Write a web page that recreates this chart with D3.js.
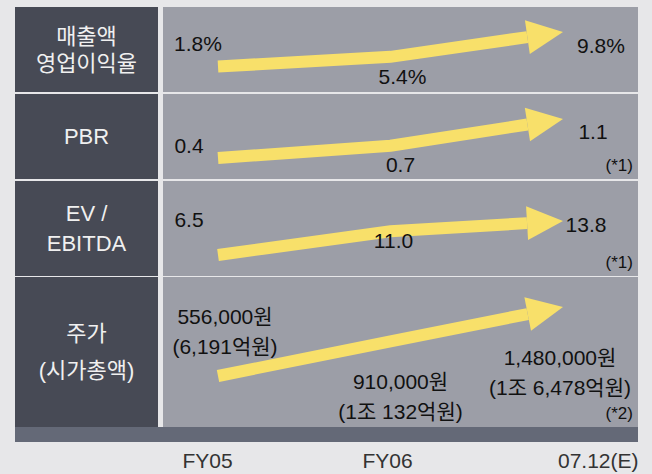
<!DOCTYPE html>
<html>
<head>
<meta charset="utf-8">
<script src="https://cdn.jsdelivr.net/npm/d3@7"></script>
<style>
  html, body { margin: 0; padding: 0; background: #e7e7e9; }
  svg { display: block; }
  text { font-family: "Liberation Sans", Arial, "Noto Sans CJK KR", sans-serif; }
</style>
</head>
<body>
<div id="chart"></div>
<script>
// periods on the x axis
const periods = ['FY05', 'FY06', '07.12(E)'];

// row titles (one entry per line)
const rowTitles = [
  ['매출액', '영업이익율'],
  ['PBR'],
  ['EV /', 'EBITDA'],
  ['주가', '(시가총액)'],
];

// values per row
const marginValues = [1.8, 5.4, 9.8];
const pbrValues = [0.4, 0.7, 1.1];
const evEbitdaValues = [6.5, 11.0, 13.8];
const priceValues = [556000, 910000, 1480000];
const marketCapLabels = ['(6,191억원)', '(1조 132억원)', '(1조 6,478억원)'];
const rowNotes = ['', '(*1)', '(*1)', '(*2)'];

const fmtPct = d => d3.format('.1f')(d) + '%';
const fmt1 = d3.format('.1f');
const fmtWon = d => d3.format(',')(d) + '원';

const rows = [
  { values: marginValues, scale: () => d3.scalePow().exponent(2), labels: marginValues.map(d => [fmtPct(d)]) },
  { values: pbrValues, scale: () => d3.scalePow().exponent(2), labels: pbrValues.map(d => [fmt1(d)]) },
  { values: evEbitdaValues, scale: () => d3.scaleLog(), labels: evEbitdaValues.map(d => [fmt1(d)]) },
  { values: priceValues, scale: () => d3.scaleLog(), labels: priceValues.map((d, i) => [fmtWon(d), marketCapLabels[i]]) },
];

// layout
const width = 652, height = 474;
const leftX = 15, leftW = 143, panelX = 163, panelR = 638;
const rowTops = [7, 94, 181, 277];
const rowBottoms = [92, 179, 276, 427];
const bandH = 15;
// arrow start / end offset from row top
const arrowRange = [[59.5, 25], [64, 25], [74, 40], [99, 30]];
// label offsets: [dx from arrow x, dy from row top] per period
const labelOffsets = [
  [[-20, 37], [12, 70], [38, 39]],
  [[-29, 52], [10, 71], [30, 38]],
  [[-29, 39], [3, 60], [23, 44]],
  [[7, 40], [10, 105], [-3, 81]],
];
const titleLineGap = [27, 0, 30, 37];
const lineGap4 = 30;

const svg = d3.select('#chart').append('svg')
  .attr('width', width)
  .attr('height', height);

const xArrow = d3.scalePoint().domain(periods).range([218, 563]);
const xLabel = d3.scalePoint().domain(periods).range([207, 567]);

const headLen = 36, headHalf = 17, shaftW = 12;

rows.forEach((row, r) => {
  const top = rowTops[r], bottom = rowBottoms[r];
  const g = svg.append('g');

  g.append('rect')
    .attr('x', leftX).attr('y', top)
    .attr('width', leftW).attr('height', bottom - top)
    .attr('fill', '#474a55');
  g.append('rect')
    .attr('x', panelX).attr('y', top)
    .attr('width', panelR - panelX).attr('height', bottom - top)
    .attr('fill', '#9c9ea7');

  // title
  const lines = rowTitles[r];
  const cy = (top + bottom) / 2;
  const gap = titleLineGap[r];
  g.selectAll('.title')
    .data(lines)
    .join('text')
    .attr('x', leftX + leftW / 2)
    .attr('y', (d, i) => cy + (i - (lines.length - 1) / 2) * gap)
    .attr('dy', '0.35em')
    .attr('text-anchor', 'middle')
    .attr('fill', '#f0f0f0')
    .attr('font-size', 22)
    .text(d => d);

  // arrow
  const y = row.scale()
    .domain([row.values[0], row.values[2]])
    .range([top + arrowRange[r][0], top + arrowRange[r][1]]);
  const pts = periods.map((p, i) => [xArrow(p), y(row.values[i])]);
  const tip = pts[2], prev = pts[1];
  const dx = tip[0] - prev[0], dy = tip[1] - prev[1];
  const len = Math.hypot(dx, dy);
  const ux = dx / len, uy = dy / len;
  const base = [tip[0] - ux * headLen, tip[1] - uy * headLen];

  g.append('path')
    .attr('d', d3.line()([pts[0], pts[1], base]))
    .attr('fill', 'none')
    .attr('stroke', '#f8e06a')
    .attr('stroke-width', shaftW)
    .attr('stroke-linejoin', 'miter');
  g.append('path')
    .attr('d', d3.line()([
      [base[0] - uy * headHalf, base[1] + ux * headHalf],
      tip,
      [base[0] + uy * headHalf, base[1] - ux * headHalf],
    ]) + 'Z')
    .attr('fill', '#f8e06a');

  // value labels
  periods.forEach((p, i) => {
    const [ox, oy] = labelOffsets[r][i];
    g.selectAll(null)
      .data(row.labels[i])
      .join('text')
      .attr('x', xArrow(p) + ox)
      .attr('y', (d, k) => top + oy + k * lineGap4)
      .attr('dy', '0.35em')
      .attr('text-anchor', 'middle')
      .attr('fill', '#111')
      .attr('font-size', 21)
      .text(d => d);
  });

  if (rowNotes[r]) {
    g.append('text')
      .attr('x', panelR - 5)
      .attr('y', bottom - 14)
      .attr('dy', '0.35em')
      .attr('text-anchor', 'end')
      .attr('fill', '#111')
      .attr('font-size', 17)
      .text(rowNotes[r]);
  }
});

// bottom band
svg.append('rect')
  .attr('x', leftX).attr('y', rowBottoms[3])
  .attr('width', panelR - leftX).attr('height', bandH)
  .attr('fill', '#646977');

// x axis labels
const axis = svg.append('g')
  .attr('transform', `translate(0, 453)`)
  .call(d3.axisBottom(xLabel).tickSize(0).tickPadding(0))
  .call(g => g.select('.domain').remove());
axis.selectAll('text')
  .attr('font-size', 21)
  .attr('fill', '#333')
  .attr('dy', '0.72em')
  .attr('font-family', '"Liberation Sans", Arial, sans-serif');
axis.selectAll('.tick')
  .filter(d => d === periods[periods.length - 1])
  .select('text')
  .attr('text-anchor', 'end')
  .attr('x', panelR - xLabel(periods[periods.length - 1]));
</script>
</body>
</html>
